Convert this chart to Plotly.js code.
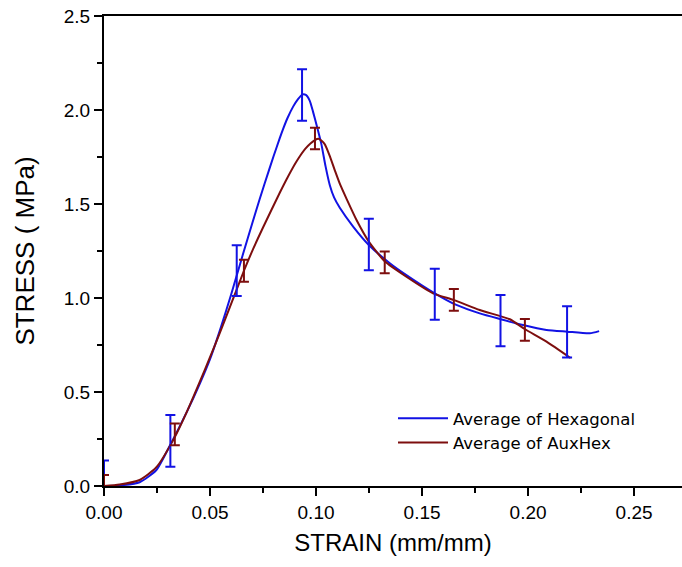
<!DOCTYPE html>
<html>
<head>
<meta charset="utf-8">
<script src="https://cdn.plot.ly/plotly-3.0.1.min.js"></script>
<style>html,body{margin:0;padding:0;background:#fff;}#chart{width:682px;height:567px;}</style>
</head>
<body>
<div id="chart"></div>
<script>
// Average curve: Hexagonal
var hexStrain = [0, 0.0074, 0.0168, 0.0247, 0.0313, 0.0389, 0.0452, 0.05, 0.055, 0.06, 0.0626, 0.0656, 0.07, 0.0734, 0.0758, 0.08, 0.0829, 0.0844, 0.0865, 0.0892, 0.0915, 0.0935, 0.0952, 0.097, 0.0986, 0.1005, 0.1025, 0.1045, 0.1065, 0.1085, 0.1112, 0.1175, 0.1249, 0.1348, 0.1426, 0.156, 0.1662, 0.1772, 0.1871, 0.1976, 0.2087, 0.2184, 0.2291, 0.2335];
var hexStress = [0, 0.003, 0.02, 0.085, 0.22, 0.39, 0.545, 0.675, 0.84, 1.02, 1.12, 1.235, 1.40, 1.525, 1.61, 1.755, 1.85, 1.897, 1.956, 2.018, 2.058, 2.082, 2.08, 2.05, 1.99, 1.91, 1.82, 1.70, 1.6, 1.535, 1.48, 1.38, 1.282, 1.185, 1.122, 1.025, 0.963, 0.918, 0.887, 0.856, 0.83, 0.821, 0.812, 0.824];
// Average curve: AuxHex
var auxStrain = [0, 0.0074, 0.0168, 0.0247, 0.0334, 0.0389, 0.0452, 0.05, 0.055, 0.06, 0.066, 0.0703, 0.075, 0.0829, 0.0865, 0.0907, 0.095, 0.0995, 0.1012, 0.104, 0.1065, 0.109, 0.1115, 0.1143, 0.1191, 0.1249, 0.1324, 0.1426, 0.1552, 0.1651, 0.1772, 0.1914, 0.1984, 0.2087, 0.22];
var auxStress = [0, 0.008, 0.032, 0.1, 0.26, 0.39, 0.555, 0.685, 0.825, 0.97, 1.145, 1.26, 1.375, 1.56, 1.64, 1.725, 1.795, 1.84, 1.847, 1.82, 1.755, 1.675, 1.6, 1.53, 1.415, 1.30, 1.195, 1.113, 1.025, 0.989, 0.936, 0.887, 0.835, 0.768, 0.681];
// Error bars
var hexBarStrain = [0, 0.0313, 0.0626, 0.0934, 0.1249, 0.156, 0.187, 0.2184];
var hexBarStress = [0, 0.24, 1.145, 2.08, 1.285, 1.02, 0.88, 0.82];
var hexBarErr = [0.135, 0.137, 0.135, 0.137, 0.137, 0.136, 0.136, 0.136];
var auxBarStrain = [0, 0.0334, 0.066, 0.0995, 0.1324, 0.165, 0.1985];
var auxBarStress = [0, 0.275, 1.145, 1.848, 1.19, 0.99, 0.83];
var auxBarErr = [0.058, 0.058, 0.058, 0.057, 0.058, 0.058, 0.058];
// Labels
var seriesNames = ['Average of Hexagonal', 'Average of AuxHex'];
var xTitle = 'STRAIN (mm/mm)';
var yTitle = 'STRESS ( MPa)';

var blue = 'rgb(18,18,228)';
var red = 'rgb(125,14,14)';

var traces = [
  {x: hexStrain, y: hexStress, name: seriesNames[0], type: 'scatter', mode: 'lines',
   line: {color: blue, width: 2, shape: 'spline', smoothing: 0.6}},
  {x: auxStrain, y: auxStress, name: seriesNames[1], type: 'scatter', mode: 'lines',
   line: {color: red, width: 2, shape: 'spline', smoothing: 0.6}},
  {x: hexBarStrain, y: hexBarStress, type: 'scatter', mode: 'markers', showlegend: false,
   marker: {size: 1, opacity: 0, color: blue},
   error_y: {type: 'data', array: hexBarErr, symmetric: true, color: blue, thickness: 2, width: 5}},
  {x: auxBarStrain, y: auxBarStress, type: 'scatter', mode: 'markers', showlegend: false,
   marker: {size: 1, opacity: 0, color: red},
   error_y: {type: 'data', array: auxBarErr, symmetric: true, color: red, thickness: 2, width: 5}}
];

var layout = {
  width: 682, height: 567,
  margin: {l: 104, r: 0, t: 16, b: 81},
  paper_bgcolor: '#ffffff', plot_bgcolor: '#ffffff',
  font: {family: 'Liberation Sans, Arial, sans-serif', color: '#000', size: 19},
  showlegend: true,
  legend: {x: 0.5, y: 0.181, xanchor: 'left', yanchor: 'top', bgcolor: 'rgba(255,255,255,0)',
           font: {family: 'DejaVu Sans, Verdana, sans-serif', size: 16.5, color: '#000'},
           itemwidth: 50, tracegroupgap: 0},
  xaxis: {range: [0, 0.2726], dtick: 0.05, tick0: 0, tickformat: '.2f',
          showline: true, linecolor: '#000', linewidth: 2, mirror: true,
          ticks: 'outside', ticklen: 8, tickwidth: 2, tickcolor: '#000',
          minor: {ticks: 'outside', ticklen: 5, tickwidth: 2, dtick: 0.025, tickcolor: '#000'},
          showgrid: false, zeroline: false,
          tickfont: {size: 19},
          title: {text: xTitle, font: {size: 24}, standoff: 12}},
  yaxis: {range: [0, 2.5], dtick: 0.5, tick0: 0, tickformat: '.1f',
          showline: true, linecolor: '#000', linewidth: 2, mirror: false,
          ticks: 'outside', ticklen: 8, tickwidth: 2, tickcolor: '#000',
          minor: {ticks: 'outside', ticklen: 5, tickwidth: 2, dtick: 0.25, tickcolor: '#000'},
          showgrid: false, zeroline: false,
          tickfont: {size: 19},
          title: {text: yTitle, font: {size: 26}, standoff: 22}}
};

Plotly.newPlot('chart', traces, layout, {displayModeBar: false, staticPlot: true});
</script>
</body>
</html>
